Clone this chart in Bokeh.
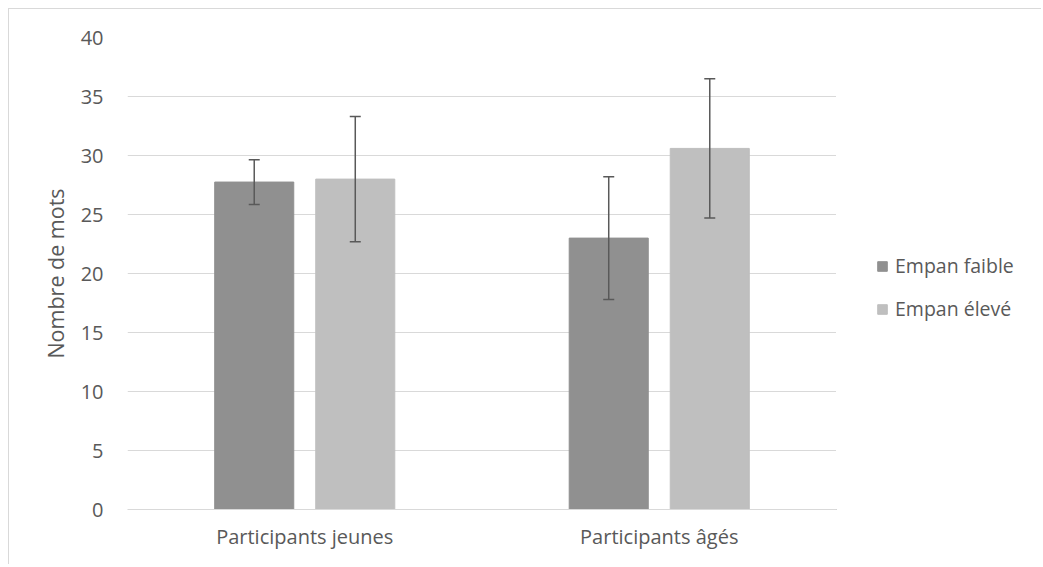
from bokeh.plotting import figure
from bokeh.layouts import row
from bokeh.models import ColumnDataSource, Whisker, TeeHead, Legend, LegendItem, FactorRange, SingleIntervalTicker, Range1d
from bokeh.transform import dodge
from bokeh.embed import file_html
from bokeh.resources import INLINE

categories = ["Participants jeunes", "Participants âgés"]
series_names = ["Empan faible", "Empan élevé"]
faible = [27.75, 23.0]
faible_err = [1.9, 5.2]
eleve = [28.0, 30.6]
eleve_err = [5.3, 5.9]
colors = ["#909090", "#BFBFBF"]

FONT = "Open Sans"
TXT = "#595959"

p = figure(x_range=FactorRange(*categories), y_range=(0, 40),
           width=827, height=555, output_backend="svg", toolbar_location=None,
           min_border_left=118, min_border_right=0, min_border_top=28, min_border_bottom=55)
p.outline_line_color = None

offs = [-0.1425, 0.1425]
for vals, errs, off, col in [(faible, faible_err, offs[0], colors[0]), (eleve, eleve_err, offs[1], colors[1])]:
    src = ColumnDataSource(dict(cat=categories, val=vals,
                                upper=[v + e for v, e in zip(vals, errs)],
                                lower=[v - e for v, e in zip(vals, errs)]))
    p.vbar(x=dodge("cat", off, range=p.x_range), top="val", width=0.223, source=src,
           fill_color=col, line_color=col)
    w = Whisker(base=dodge("cat", off, range=p.x_range), upper="upper", lower="lower", source=src,
                level="annotation", line_color="#595959", line_width=1.5,
                upper_head=TeeHead(size=11, line_color="#595959", line_width=1.5),
                lower_head=TeeHead(size=11, line_color="#595959", line_width=1.5))
    p.add_layout(w)

p.yaxis.ticker = SingleIntervalTicker(interval=5)
p.ygrid.grid_line_color = "#D9D9D9"
p.xgrid.grid_line_color = None
p.yaxis.axis_line_color = None
p.yaxis.major_tick_line_color = None
p.yaxis.minor_tick_line_color = None
p.yaxis.major_label_standoff = 18
p.yaxis.axis_label = "Nombre de mots"
p.yaxis.axis_label_standoff = 8
p.yaxis.axis_label_text_font_style = "normal"
p.yaxis.axis_label_text_font_size = "21.5px"
p.yaxis.axis_label_text_color = TXT
p.yaxis.axis_label_text_font = FONT

p.xaxis.axis_line_color = "#D9D9D9"
p.xaxis.major_tick_line_color = None
p.xaxis.minor_tick_line_color = None
p.xaxis.major_label_standoff = 7
for ax in (p.xaxis, p.yaxis):
    ax.major_label_text_font = FONT
    ax.major_label_text_font_size = "20px"
    ax.major_label_text_color = TXT

# legend panel
lg = figure(width=205, height=555, output_backend="svg", toolbar_location=None,
            x_range=Range1d(0, 1), y_range=Range1d(0, 1),
            min_border_left=0, min_border_right=0, min_border_top=0, min_border_bottom=0)
lg.axis.visible = False
lg.grid.visible = False
lg.outline_line_color = None
dummies = [lg.vbar(x=[-10], top=[-10], width=0.1, fill_color=c, line_color=c) for c in colors]
legend = Legend(items=[LegendItem(label=n, renderers=[r]) for n, r in zip(series_names, dummies)],
                location=(40, 187), orientation="vertical",
                glyph_width=12, glyph_height=12, spacing=16, label_standoff=7,
                label_text_font=FONT, label_text_font_size="19.5px", label_text_color=TXT,
                border_line_color=None, background_fill_alpha=0, padding=0, margin=0)
lg.add_layout(legend, "center")

layout = row(p, lg, spacing=0)
layout.styles = {"margin-left": "8px", "margin-top": "8px",
                 "border-left": "1px solid #D9D9D9", "border-top": "1px solid #D9D9D9"}

open("out.html", "w").write(file_html(layout, INLINE))
